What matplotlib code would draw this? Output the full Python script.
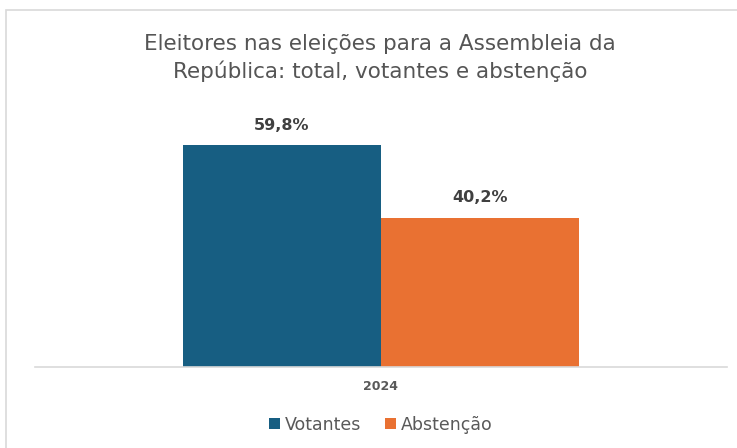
import matplotlib.pyplot as plt
from matplotlib.patches import Rectangle

series = ['Votantes', 'Abstenção']
values = [59.8, 40.2]
labels = ['59,8%', '40,2%']
category = '2024'
colors = ['#175E82', '#E97132']

plt.rcParams['font.family'] = ['DejaVu Sans']

fig = plt.figure(figsize=(7.37, 4.48), dpi=100)
ax = fig.add_axes([35 / 737, 1 - 367 / 448, 692 / 737, 260 / 448])

w = 0.572
offsets = [-w / 2, w / 2]
for name, v, lab, c, off in zip(series, values, labels, colors, offsets):
    ax.bar(off, v, width=w, color=c, label=name)
    ax.text(off, v + 3.3, lab, ha='center', va='bottom', fontsize=11.5,
            fontweight='bold', color='#404040')

ax.set_xlim(-1, 1)
ax.set_ylim(0, 70)
ax.set_xticks([0])
ax.set_xticklabels([category], fontsize=9, fontweight='bold', color='#595959')
ax.tick_params(axis='x', length=0, pad=9)
ax.set_yticks([])
for s in ['top', 'left', 'right']:
    ax.spines[s].set_visible(False)
ax.spines['bottom'].set_color('#D9D9D9')
ax.spines['bottom'].set_linewidth(1.2)

fig.text(380 / 737, 1 - 58 / 448,
         'Eleitores nas eleições para a Assembleia da\nRepública: total, votantes e abstenção',
         ha='center', va='center', fontsize=15.5, color='#555555', linespacing=1.32)

leg = fig.legend(loc='center', bbox_to_anchor=(381 / 737, 1 - 425 / 448), ncol=2,
                 frameon=False, fontsize=12.5, handlelength=0.6, handleheight=0.6,
                 handletextpad=0.3, columnspacing=1.4)
for t in leg.get_texts():
    t.set_color('#595959')

fig.patches.append(Rectangle((6 / 737, -0.05), 1.0, 1 - 10 / 448 + 0.05,
                             transform=fig.transFigure, fill=False,
                             edgecolor='#D9D9D9', linewidth=1.2))

fig.savefig('out.png', dpi=100)
